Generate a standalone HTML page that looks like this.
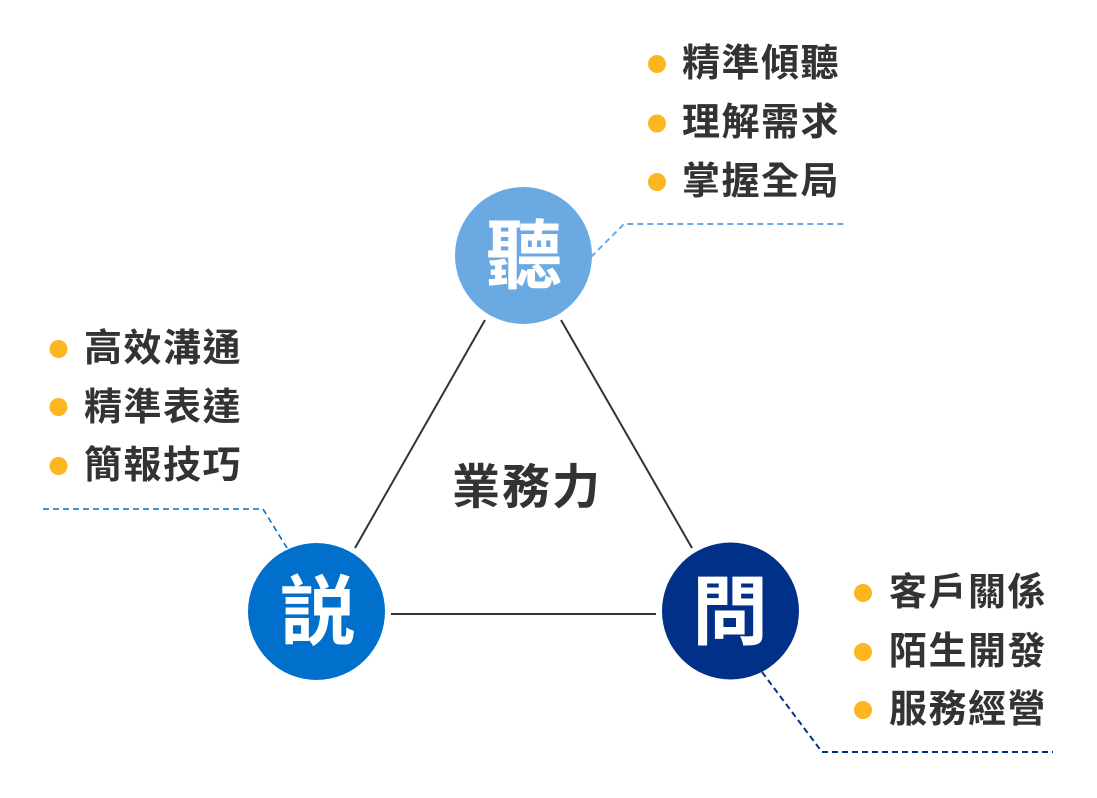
<!DOCTYPE html>
<html>
<head>
<meta charset="utf-8">
<style>
  html, body { margin: 0; padding: 0; background: #ffffff; }
  body { width: 1097px; height: 798px; overflow: hidden; }
  svg { display: block; }
  .t { font-family: "Liberation Sans", "Noto Sans CJK TC", "Noto Sans CJK SC", sans-serif; font-weight: 700; fill: #333333; }
  .c { font-family: "Liberation Sans", "Noto Sans CJK TC", "Noto Sans CJK SC", sans-serif; font-weight: 700; fill: #ffffff; }
</style>
</head>
<body>
<svg width="1097" height="798" viewBox="0 0 1097 798" xmlns="http://www.w3.org/2000/svg">
  <!-- triangle connectors -->
  <line x1="485" y1="320" x2="355" y2="548" stroke="#333333" stroke-width="2"/>
  <line x1="561" y1="320" x2="692" y2="548" stroke="#333333" stroke-width="2"/>
  <line x1="391" y1="614" x2="656" y2="614" stroke="#333333" stroke-width="2"/>

  <!-- dashed leader lines -->
  <polyline points="591,257 624,224 845,224" fill="none" stroke="#6AA9E1" stroke-width="2" stroke-dasharray="6,4"/>
  <polyline points="43,509 263,509 287,548" fill="none" stroke="#0070C9" stroke-width="1.6" stroke-dasharray="6,4"/>
  <polyline points="762,672 822,752 1053,752" fill="none" stroke="#003087" stroke-width="2" stroke-dasharray="6,4"/>

  <!-- circles -->
  <circle cx="523.5" cy="255.5" r="68.5" fill="#6AA9E1"/>
  <circle cx="316.5" cy="611.5" r="68.5" fill="#0070CC"/>
  <circle cx="730.5" cy="611" r="68.5" fill="#003087"/>

  <text class="c" x="524" y="257" font-size="76" text-anchor="middle" dominant-baseline="central">聽</text>
  <text class="c" x="318" y="613" font-size="76" text-anchor="middle" dominant-baseline="central">説</text>
  <text class="c" x="730" y="613" font-size="76" text-anchor="middle" dominant-baseline="central">問</text>

  <!-- center label -->
  <text class="t" x="452" y="488" font-size="48" letter-spacing="2" dominant-baseline="central">業務力</text>

  <!-- top list -->
  <circle cx="657" cy="64" r="9" fill="#FDB520"/>
  <circle cx="657" cy="123.5" r="9" fill="#FDB520"/>
  <circle cx="657" cy="182" r="9" fill="#FDB520"/>
  <text class="t" x="682" y="64" font-size="38" letter-spacing="1.5" dominant-baseline="central">精準傾聽</text>
  <text class="t" x="682" y="123" font-size="38" letter-spacing="1.5" dominant-baseline="central">理解需求</text>
  <text class="t" x="682" y="182" font-size="38" letter-spacing="1.5" dominant-baseline="central">掌握全局</text>

  <!-- left list -->
  <circle cx="58.5" cy="349" r="9" fill="#FDB520"/>
  <circle cx="58.5" cy="407" r="9" fill="#FDB520"/>
  <circle cx="58.5" cy="466" r="9" fill="#FDB520"/>
  <text class="t" x="84" y="349" font-size="38" letter-spacing="1.5" dominant-baseline="central">高效溝通</text>
  <text class="t" x="84" y="408" font-size="38" letter-spacing="1.5" dominant-baseline="central">精準表達</text>
  <text class="t" x="84" y="466" font-size="38" letter-spacing="1.5" dominant-baseline="central">簡報技巧</text>

  <!-- right list -->
  <circle cx="863" cy="593" r="9" fill="#FDB520"/>
  <circle cx="863" cy="652" r="9" fill="#FDB520"/>
  <circle cx="863" cy="710" r="9" fill="#FDB520"/>
  <text class="t" x="889" y="593" font-size="38" letter-spacing="1.5" dominant-baseline="central">客戶關係</text>
  <text class="t" x="889" y="652" font-size="38" letter-spacing="1.5" dominant-baseline="central">陌生開發</text>
  <text class="t" x="889" y="710" font-size="38" letter-spacing="1.5" dominant-baseline="central">服務經營</text>
</svg>
</body>
</html>
